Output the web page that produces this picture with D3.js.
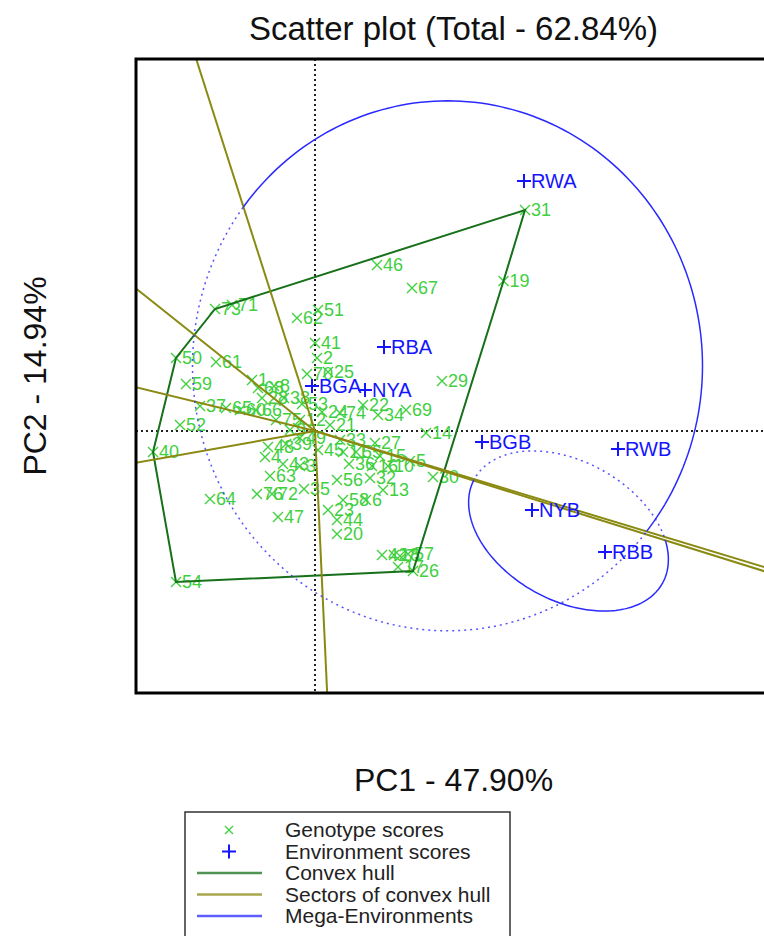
<!DOCTYPE html>
<html lang="en">
<head>
<meta charset="UTF-8">
<title>Scatter plot</title>
<script src="https://cdnjs.cloudflare.com/ajax/libs/d3/7.8.5/d3.min.js"></script>
<style>
  body { margin: 0; background: #fff; }
  svg { display: block; font-family: "Liberation Sans", Arial, sans-serif; }
</style>
</head>
<body>
<div id="chart"></div>
<script>
// genotype scores (PC1, PC2)
var genoLabels = ["1","2","3","4","5","6","7","8","9","10","11","12","13","14","15","16","17","18","19","20",
  "21","22","23","24","25","26","27","28","29","30","31","32","33","34","35","36","37","38","39","40",
  "41","42","43","44","45","46","47","48","49","50","51","52","53","54","55","56","57","58","59","60",
  "61","62","63","64","65","66","67","68","69","70","71","72","73","74","75","76"];
var genoPC1 = [-1.26,0.04,-0.30,-1.00,1.90,1.02,1.70,-0.82,-0.50,1.46,0.56,-0.30,1.36,2.22,1.30,1.14,1.66,1.58,3.77,0.44,
  0.30,0.96,0.26,0.14,0.26,1.96,1.20,-1.06,2.54,2.36,4.20,1.10,0.50,1.26,-0.22,0.68,-2.30,-0.62,-0.58,-3.24,
  0.00,1.34,-0.64,0.44,0.06,1.24,-0.74,-0.94,-0.30,-2.78,0.06,-2.70,-0.26,-2.78,0.82,0.44,1.86,0.56,-2.58,-1.50,
  -1.98,-0.36,-0.90,-2.10,-1.78,-1.18,1.94,-1.14,1.82,-0.16,-1.66,-0.86,-2.00,0.50,-0.78,-1.16];
var genoPC2 = [1.02,1.46,-0.70,-0.52,-0.60,-1.38,-2.50,0.90,0.02,-0.70,-0.42,0.22,-1.18,-0.04,-0.50,-0.70,-2.72,-2.48,3.00,-2.06,
  0.12,0.52,-1.58,0.38,1.18,-2.80,-0.24,0.66,1.00,-0.92,4.42,-0.94,-0.18,0.32,-1.16,-0.66,0.50,0.66,-0.26,-0.42,
  1.76,-2.48,-0.66,-1.78,-0.38,3.32,-1.72,-0.32,-0.14,1.46,2.42,0.12,0.54,-3.02,-0.42,-0.98,-2.46,-1.38,0.94,0.42,
  1.38,2.26,-0.90,-1.36,0.46,0.42,2.86,0.86,0.42,1.14,2.52,-1.26,2.44,0.36,0.22,-1.26];

// environment scores (PC1, PC2)
var envLabels = ["RWA","RBA","BGA","NYA","BGB","RWB","NYB","RBB"];
var envPC1 = [4.18,1.38,-0.06,1.00,3.34,6.06,4.34,5.80];
var envPC2 = [5.00,1.68,0.90,0.82,-0.22,-0.36,-1.58,-2.42];

// mega-environments and their ellipses (radii in PC units, angle in degrees)
var megaGroups = [["RWA","RBA","BGA","NYA","BGB","RWB"], ["NYB","RBB"]];
var megaRadiusA = [5.1, 2.15];
var megaRadiusB = [5.3, 1.39];
var megaAngle = [0, -29];

var pc1Domain = [-3.58, 9.12];
var pc2Domain = [-5.24, 7.44];

var legendItems = ["Genotype scores", "Environment scores", "Convex hull", "Sectors of convex hull", "Mega-Environments"];

var width = 764, height = 936;
var ml = 136, mr = 771, mt = 59, mb = 693;

var genoColor = "#3fcf3f", envColor = "#1414ff", hullColor = "#17701a",
    sectorColor = "#8a8a12", megaColor = "#2a2aff";

var svg = d3.select("#chart").append("svg")
  .attr("width", width).attr("height", height);

var x = d3.scaleLinear().domain(pc1Domain).range([ml, mr]);
var y = d3.scaleLinear().domain(pc2Domain).range([mb, mt]);

var defs = svg.append("defs");
defs.append("clipPath").attr("id", "plotclip")
  .append("rect").attr("x", ml).attr("y", mt)
  .attr("width", mr - ml).attr("height", mb - mt);

var plot = svg.append("g").attr("clip-path", "url(#plotclip)");

// origin axes
plot.append("line")
  .attr("x1", x(0)).attr("x2", x(0)).attr("y1", mt).attr("y2", mb)
  .attr("stroke", "#222").attr("stroke-width", 2).attr("stroke-dasharray", "2,3");
plot.append("line")
  .attr("x1", ml).attr("x2", mr).attr("y1", y(0)).attr("y2", y(0))
  .attr("stroke", "#222").attr("stroke-width", 2).attr("stroke-dasharray", "2,3");

// genotypes
var geno = genoLabels.map(function(d, i) { return {label: d, x: genoPC1[i], y: genoPC2[i]}; });
var env = envLabels.map(function(d, i) { return {label: d, x: envPC1[i], y: envPC2[i]}; });

var gg = plot.append("g");
gg.selectAll("path.gx").data(geno).enter().append("path")
  .attr("class", "gx")
  .attr("d", function(d) {
    var px = x(d.x), py = y(d.y), s = 5;
    return "M" + (px - s) + "," + (py - s) + "L" + (px + s) + "," + (py + s) +
           "M" + (px - s) + "," + (py + s) + "L" + (px + s) + "," + (py - s);
  })
  .attr("stroke", genoColor).attr("stroke-width", 1.4).attr("fill", "none");
gg.selectAll("text").data(geno).enter().append("text")
  .attr("x", function(d) { return x(d.x) + 6; })
  .attr("y", function(d) { return y(d.y); })
  .attr("dy", "0.36em")
  .attr("font-size", 18)
  .attr("fill", genoColor)
  .text(function(d) { return d.label; });

// convex hull
var hullPts = d3.polygonHull(geno.map(function(d) { return [d.x, d.y]; }));
plot.append("path")
  .attr("d", d3.line().x(function(p) { return x(p[0]); }).y(function(p) { return y(p[1]); })
    .curve(d3.curveLinearClosed)(hullPts))
  .attr("fill", "none").attr("stroke", hullColor).attr("stroke-width", 2);

// sector rays: perpendicular from origin to each hull edge
var n = hullPts.length;
var rayAngle = [];
for (var i = 0; i < n; i++) {
  var a = hullPts[i], b = hullPts[(i + 1) % n];
  var dx = b[0] - a[0], dy = b[1] - a[1];
  var t = -(a[0] * dx + a[1] * dy) / (dx * dx + dy * dy);
  var fx = a[0] + t * dx, fy = a[1] + t * dy;
  rayAngle.push(Math.atan2(fy, fx));
}
plot.selectAll("line.ray").data(rayAngle).enter().append("line")
  .attr("class", "ray")
  .attr("x1", x(0)).attr("y1", y(0))
  .attr("x2", function(d) { return x(40 * Math.cos(d)); })
  .attr("y2", function(d) { return y(40 * Math.sin(d)); })
  .attr("stroke", sectorColor).attr("stroke-width", 2);

// mega-environment ellipses, solid inside the winner's sector, dotted outside
megaGroups.forEach(function(group, gi) {
  var members = env.filter(function(e) { return group.indexOf(e.label) >= 0; });
  var cx = d3.mean(members, function(e) { return e.x; });
  var cy = d3.mean(members, function(e) { return e.y; });
  // winning hull vertex
  var best = 0, bestVal = -Infinity;
  hullPts.forEach(function(p, k) {
    var v = p[0] * cx + p[1] * cy;
    if (v > bestVal) { bestVal = v; best = k; }
  });
  var a1 = rayAngle[(best - 1 + n) % n], a2 = rayAngle[best];
  var diff = a2 - a1;
  while (diff > Math.PI) diff -= 2 * Math.PI;
  while (diff < -Math.PI) diff += 2 * Math.PI;
  var sector = [[x(0), y(0)]];
  for (var s = 0; s <= 60; s++) {
    var ang = a1 + diff * s / 60;
    sector.push([x(60 * Math.cos(ang)), y(60 * Math.sin(ang))]);
  }
  var sectorD = "M" + sector.map(function(p) { return p.join(","); }).join("L") + "Z";
  var rectD = "M-2000,-2000L3000,-2000L3000,3000L-2000,3000Z";
  defs.append("clipPath").attr("id", "in" + gi)
    .append("path").attr("d", sectorD);
  defs.append("clipPath").attr("id", "out" + gi)
    .append("path").attr("d", rectD + sectorD).attr("clip-rule", "evenodd");

  var th = megaAngle[gi] * Math.PI / 180;
  var ra = megaRadiusA[gi], rb = megaRadiusB[gi];
  var pts = d3.range(0, 240).map(function(k) {
    var u = 2 * Math.PI * k / 240;
    var ex = ra * Math.cos(u), ey = rb * Math.sin(u);
    return [x(cx + ex * Math.cos(th) - ey * Math.sin(th)), y(cy + ex * Math.sin(th) + ey * Math.cos(th))];
  });
  var ellD = d3.line().curve(d3.curveLinearClosed)(pts);
  plot.append("path").attr("d", ellD).attr("clip-path", "url(#in" + gi + ")")
    .attr("fill", "none").attr("stroke", megaColor).attr("stroke-width", 1.5);
  plot.append("path").attr("d", ellD).attr("clip-path", "url(#out" + gi + ")")
    .attr("fill", "none").attr("stroke", megaColor).attr("stroke-width", 1.5)
    .attr("stroke-dasharray", "2,4").attr("opacity", 0.8);
});

// environments
var eg = plot.append("g");
eg.selectAll("path").data(env).enter().append("path")
  .attr("d", function(d) {
    var px = x(d.x), py = y(d.y), s = 7;
    return "M" + (px - s) + "," + py + "L" + (px + s) + "," + py +
           "M" + px + "," + (py - s) + "L" + px + "," + (py + s);
  })
  .attr("stroke", envColor).attr("stroke-width", 2);
eg.selectAll("text").data(env).enter().append("text")
  .attr("x", function(d) { return x(d.x) + 7; })
  .attr("y", function(d) { return y(d.y); })
  .attr("dy", "0.36em")
  .attr("font-size", 20)
  .attr("fill", envColor)
  .text(function(d) { return d.label; });

// frame
svg.append("rect")
  .attr("x", ml).attr("y", mt).attr("width", mr - ml).attr("height", mb - mt)
  .attr("fill", "none").attr("stroke", "#000").attr("stroke-width", 3);

// titles
svg.append("text").attr("x", (ml + mr) / 2).attr("y", 40)
  .attr("text-anchor", "middle").attr("font-size", 33).attr("fill", "#111")
  .text("Scatter plot (Total - 62.84%)");
svg.append("text").attr("x", (ml + mr) / 2).attr("y", 791)
  .attr("text-anchor", "middle").attr("font-size", 32).attr("fill", "#111")
  .text("PC1 - 47.90%");
svg.append("text")
  .attr("transform", "translate(46," + (mt + mb) / 2 + ") rotate(-90)")
  .attr("text-anchor", "middle").attr("font-size", 32).attr("fill", "#111")
  .text("PC2 - 14.94%");

// legend
var lg = svg.append("g");
lg.append("rect").attr("x", 185).attr("y", 812).attr("width", 325).attr("height", 150)
  .attr("fill", "#fff").attr("stroke", "#333").attr("stroke-width", 1.5);
var rowY = function(i) { return 830 + i * 21.5; };
lg.selectAll("text").data(legendItems).enter().append("text")
  .attr("x", 285).attr("y", function(d, i) { return rowY(i); })
  .attr("dy", "0.35em").attr("font-size", 21).attr("fill", "#222")
  .text(function(d) { return d; });
lg.append("path")
  .attr("d", "M225," + (rowY(0) - 4) + "L233," + (rowY(0) + 4) + "M225," + (rowY(0) + 4) + "L233," + (rowY(0) - 4))
  .attr("stroke", genoColor).attr("stroke-width", 1.3);
lg.append("path")
  .attr("d", "M222," + rowY(1) + "L236," + rowY(1) + "M229," + (rowY(1) - 7) + "L229," + (rowY(1) + 7))
  .attr("stroke", envColor).attr("stroke-width", 2);
[hullColor, sectorColor, megaColor].forEach(function(c, k) {
  lg.append("line").attr("x1", 197).attr("x2", 262)
    .attr("y1", rowY(k + 2)).attr("y2", rowY(k + 2))
    .attr("stroke", c).attr("stroke-width", 2.5).attr("opacity", 0.75);
});
</script>
</body>
</html>
